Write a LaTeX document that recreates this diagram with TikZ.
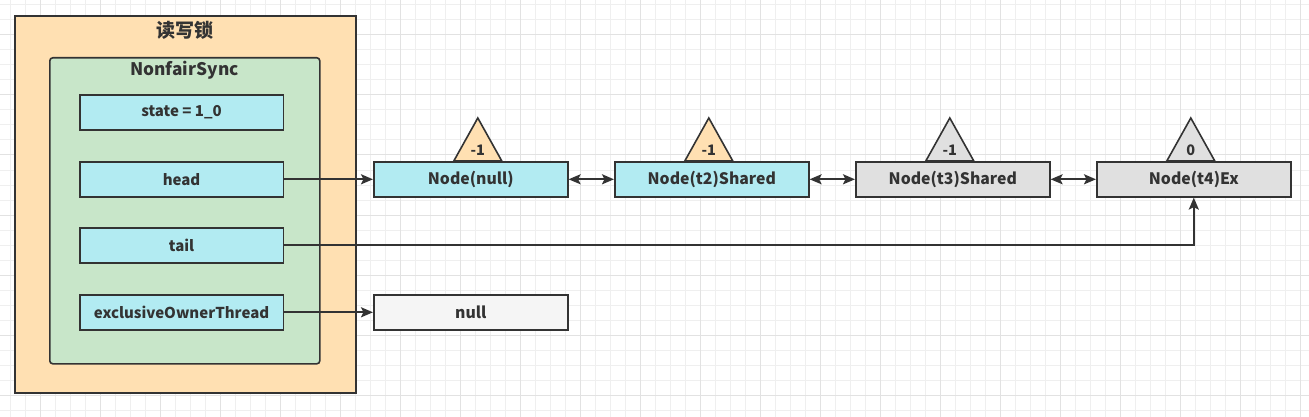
\documentclass[tikz,border=0pt]{standalone}
\usepackage{fontspec}
\setmainfont{Noto Sans CJK SC}
\usetikzlibrary{arrows.meta,calc}
\definecolor{ink}{HTML}{333333}
\definecolor{orangefill}{HTML}{FFE0B2}
\definecolor{greenfill}{HTML}{C8E6C9}
\definecolor{cyanfill}{HTML}{B2EBF2}
\definecolor{greyfill}{HTML}{E0E0E0}
\definecolor{nullfill}{HTML}{F5F5F5}
\definecolor{gridminor}{HTML}{EFEFEF}
\definecolor{gridmajor}{HTML}{E2E2E2}
\tikzset{
  box/.style={draw=ink, line width=1.6pt, text=ink, font=\bfseries\fontsize{15}{17}\selectfont, inner sep=0pt, anchor=north west},
  field/.style={box, fill=cyanfill, minimum width=203.5pt, minimum height=35pt},
  qnode/.style={box, font=\bfseries\fontsize{15.8}{17}\selectfont, minimum width=194pt, minimum height=35pt},
  tri/.style={draw=ink, line width=1.6pt, line join=miter},
  trilabel/.style={text=ink, font=\bfseries\fontsize{14.5}{16}\selectfont, inner sep=0pt},
  tip/.tip={Stealth[length=12pt,width=10pt,inset=2.5pt]},
  conn/.style={draw=ink, line width=2pt, -tip},
  dconn/.style={draw=ink, line width=2pt, tip-tip},
}
\begin{document}
\begin{tikzpicture}[x=1pt,y=-1pt]
\useasboundingbox (0,0) rectangle (1309,417);
\fill[white] (0,0) rectangle (1309,417);
% grid
\foreach \i in {0,...,88} {
  \pgfmathsetmacro\gx{-5+15*\i}
  \draw[gridminor, line width=1pt] (\gx,0) -- (\gx,417);
}
\foreach \i in {0,...,28} {
  \pgfmathsetmacro\gy{5+15*\i}
  \draw[gridminor, line width=1pt] (0,\gy) -- (1309,\gy);
}
\foreach \i in {0,...,22} {
  \pgfmathsetmacro\gx{-20+60*\i}
  \draw[gridmajor, line width=1pt] (\gx,0) -- (\gx,417);
}
\foreach \i in {0,...,7} {
  \pgfmathsetmacro\gy{-25+60*\i}
  \draw[gridmajor, line width=1pt] (0,\gy) -- (1309,\gy);
}
% containers
\node[box, fill=orangefill, minimum width=341pt, minimum height=377pt] (outer) at (14,15) {};
\node[text=ink, font=\bfseries\fontsize{19}{21}\selectfont, inner sep=0pt] (outertitle) at (184.5,30) {读写锁};
\node[box, fill=greenfill, rounded corners=3pt, minimum width=270pt, minimum height=306pt] (sync) at (49,57) {};
\node[text=ink, font=\bfseries\fontsize{17.3}{19}\selectfont, inner sep=0pt] (synctitle) at (184.5,70) {NonfairSync};
% fields
\node[field] (state) at (79,94) {state = 1\_0};
\node[field] (head) at (79,161) {head};
\node[field] (tail) at (79,227) {tail};
\node[field] (excl) at (79,294) {exclusiveOwnerThread};
% queue nodes
\node[qnode, fill=cyanfill] (n1) at (373,161) {Node(null)};
\node[qnode, fill=cyanfill] (n2) at (614,161) {Node(t2)Shared};
\node[qnode, fill=greyfill] (n3) at (855,161) {Node(t3)Shared};
\node[qnode, fill=greyfill] (n4) at (1096,161) {Node(t4)Ex};
\node[qnode, fill=nullfill] (nul) at (373,294) {null};
% triangles
\draw[tri, fill=orangefill] ($(n1.north)+(-17,0)$) -- ($(n1.north)+(7,-43)$) -- ($(n1.north)+(31,0)$) -- cycle;
\node[trilabel] (t1) at ($(n1.north)+(7,-11)$) {-1};
\draw[tri, fill=orangefill] ($(n2.north)+(-27,0)$) -- ($(n2.north)+(-3,-43)$) -- ($(n2.north)+(21,0)$) -- cycle;
\node[trilabel] (t2) at ($(n2.north)+(-3,-11)$) {-1};
\draw[tri, fill=greyfill] ($(n3.north)+(-27,0)$) -- ($(n3.north)+(-3,-43)$) -- ($(n3.north)+(21,0)$) -- cycle;
\node[trilabel] (t3) at ($(n3.north)+(-3,-11)$) {-1};
\draw[tri, fill=greyfill] ($(n4.north)+(-27,0)$) -- ($(n4.north)+(-3,-43)$) -- ($(n4.north)+(21,0)$) -- cycle;
\node[trilabel] (t4) at ($(n4.north)+(-3,-11)$) {0};
% connectors
\draw[conn] (head.east) -- (n1.west);
\draw[dconn] (n1.east) -- (n2.west);
\draw[dconn] (n2.east) -- (n3.west);
\draw[dconn] (n3.east) -- (n4.west);
\draw[conn] (tail.east) -| (n4.south);
\draw[conn] (excl.east) -- (nul.west);
\end{tikzpicture}
\end{document}
